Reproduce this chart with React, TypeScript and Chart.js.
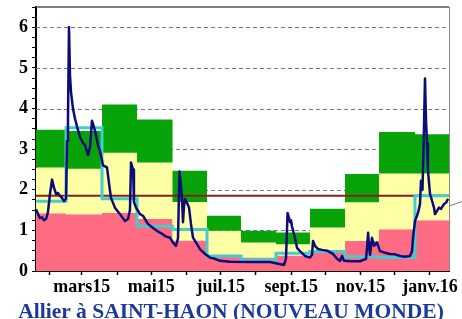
import React, { useEffect, useRef } from 'react';
import { Chart, registerables } from 'chart.js';

Chart.register(...registerables);

// ---- Data (days counted from 1 Jan 2015) ----
const X_MIN = 18.7;
const X_MAX = 381.7;
const MONTH_TICKS = [31, 59, 90, 120, 151, 181, 212, 243, 273, 304, 334, 365];
const MONTH_LABELS: Record<number, string> = {
  59: 'mars15',
  120: 'mai15',
  181: 'juil.15',
  243: 'sept.15',
  304: 'nov.15',
  365: 'janv.16',
};

// monthly blocks of the reference bands
const BLOCK_STARTS = [18.7, 45.1, 76.7, 107.5, 138.7, 169, 198.9, 229.6, 259.5, 290.3, 320.2, 351.8];
const BLOCK_END = 381.7;
const RED_TOP = [1.42, 1.40, 1.43, 1.28, 0.75, 0.40, 0.33, 0.38, 0.45, 0.74, 1.03, 1.25];
const YELLOW_TOP = [2.55, 2.52, 2.91, 2.67, 1.70, 0.99, 0.70, 0.66, 1.07, 1.69, 2.40, 2.40];
const GREEN_TOP = [3.48, 3.45, 4.10, 3.73, 2.47, 1.36, 0.99, 0.95, 1.53, 2.39, 3.42, 3.37];
const MONTHLY_MEAN = [1.72, 3.53, 1.78, 1.10, 1.02, 0.37, 0.27, 0.44, 0.48, 0.35, 0.33, 1.85];
const MODULE = 1.85;
const LEADER = [1.6, 1.71];
const GRID_VALUES = [1, 2, 3, 4, 5, 6];

// daily flow
const FLOW_DAY = [
  18.7, 20.5, 22.2, 24.0, 25.7, 27.5, 29.2, 31.0, 32.8, 34.5,
  36.3, 38.0, 39.8, 41.5, 43.3, 45.1, 46.0, 46.8, 47.7, 48.6,
  49.5, 51.2, 53.0, 54.8, 57.4, 60.0, 61.8, 64.4, 66.2, 67.9,
  70.6, 73.2, 75.0, 77.6, 81.1, 82.9, 84.6, 88.1, 92.5, 96.9,
  99.6, 101.3, 102.2, 104.0, 104.8, 106.6, 110.1, 112.7, 117.1, 121.5,
  125.9, 129.4, 132.1, 136.5, 139.1, 141.7, 143.5, 144.8, 146.1, 147.0,
  147.9, 148.8, 149.7, 151.4, 153.2, 154.9, 156.7, 160.2, 162.8, 167.2,
  171.6, 176.0, 180.4, 189.2, 206.8, 224.4, 231.4, 236.7, 238.4, 239.8,
  241.1, 242.0, 242.8, 243.7, 246.3, 248.1, 250.7, 255.1, 259.5, 261.3,
  262.2, 263.9, 266.6, 270.1, 274.5, 279.7, 283.3, 285.9, 287.7, 289.4,
  294.7, 303.5, 308.8, 309.7, 310.6, 311.4, 312.3, 314.0, 315.8, 318.4,
  321.1, 325.5, 329.9, 334.3, 338.6, 343.0, 347.4, 349.2, 350.1, 351.8,
  353.6, 354.9, 356.2, 357.1, 358.4, 359.7, 360.6, 361.5, 362.4, 363.2,
  365.0, 366.8, 368.5, 369.4, 371.2, 372.9, 374.7, 377.3, 379.1, 380.9,
];
const FLOW_Q = [
  1.52, 1.40, 1.30, 1.32, 1.25, 1.28, 1.45, 1.90, 2.25, 2.05,
  1.90, 1.92, 1.85, 1.80, 1.72, 1.78, 3.20, 3.70, 6.00, 4.80,
  4.40, 4.00, 3.75, 3.55, 3.30, 3.15, 3.10, 2.85, 3.05, 3.70,
  3.45, 3.10, 2.95, 2.60, 2.55, 2.15, 1.80, 1.56, 1.40, 1.23,
  1.28, 1.50, 2.67, 2.50, 1.70, 1.56, 1.40, 1.36, 1.16, 1.06,
  0.97, 0.92, 0.86, 0.82, 0.70, 0.62, 0.80, 2.45, 2.10, 1.80,
  1.20, 1.60, 1.77, 1.68, 1.56, 1.16, 0.82, 0.66, 0.54, 0.42,
  0.33, 0.30, 0.25, 0.23, 0.22, 0.22, 0.18, 0.15, 0.30, 1.43,
  1.30, 1.20, 1.25, 1.10, 0.82, 0.57, 0.49, 0.37, 0.33, 0.40,
  0.74, 0.62, 0.54, 0.52, 0.50, 0.42, 0.30, 0.25, 0.37, 0.25,
  0.24, 0.24, 0.30, 0.60, 0.94, 0.60, 0.40, 0.82, 0.62, 0.70,
  0.49, 0.45, 0.42, 0.41, 0.37, 0.35, 0.37, 0.49, 0.82, 1.23,
  1.36, 1.48, 1.65, 2.22, 2.00, 3.50, 4.74, 3.70, 3.14, 2.47,
  1.90, 1.73, 1.56, 1.40, 1.48, 1.56, 1.53, 1.65, 1.68, 1.78,
];

const TITLE = 'Allier à SAINT-HAON (NOUVEAU MONDE)';

const PINK = '#ff6b82';
const YELLOW = '#ffffa6';
const GREEN = '#08a308';
const CYAN = '#45cccc';
const NAVY = '#0b0b7a';
const BROWN = '#8a1e1e';
const FONT = "'Liberation Serif', 'Times New Roman', serif";

function stepData(vals: number[]) {
  const pts = BLOCK_STARTS.map((x, i) => ({ x, y: vals[i] }));
  pts.push({ x: BLOCK_END, y: vals[vals.length - 1] });
  return pts;
}

const framePlugin = {
  id: 'frame',
  beforeDatasetsDraw(chart: any) {
    const { ctx, chartArea } = chart;
    const ys = chart.scales.y;
    ctx.save();
    ctx.strokeStyle = '#7a7a7a';
    ctx.lineWidth = 1;
    ctx.setLineDash([4, 3]);
    for (const v of GRID_VALUES) {
      const y = Math.round(ys.getPixelForValue(v)) + 0.5;
      ctx.beginPath();
      ctx.moveTo(chartArea.left, y);
      ctx.lineTo(chartArea.right, y);
      ctx.stroke();
    }
    ctx.restore();
  },
  afterDatasetsDraw(chart: any) {
    const { ctx, chartArea } = chart;
    ctx.save();
    ctx.strokeStyle = '#555';
    ctx.lineWidth = 1.5;
    ctx.beginPath();
    ctx.moveTo(chartArea.left, chartArea.top);
    ctx.lineTo(chartArea.right, chartArea.top);
    ctx.stroke();
    ctx.strokeStyle = '#888';
    ctx.lineWidth = 1;
    ctx.beginPath();
    ctx.moveTo(chartArea.right + 0.5, chartArea.top);
    ctx.lineTo(chartArea.right + 0.5, chartArea.bottom);
    ctx.stroke();
    ctx.restore();
  },
  afterDraw(chart: any) {
    const { ctx, chartArea, width, height } = chart;
    const ys = chart.scales.y;
    ctx.save();
    // leader line leaving the frame on the right
    ctx.strokeStyle = '#777';
    ctx.lineWidth = 1;
    ctx.beginPath();
    ctx.moveTo(chartArea.right, ys.getPixelForValue(LEADER[0]));
    ctx.lineTo(width, ys.getPixelForValue(LEADER[1]));
    ctx.stroke();
    // title
    ctx.fillStyle = '#1c3a98';
    ctx.font = `bold 21.5px ${FONT}`;
    ctx.textAlign = 'center';
    ctx.textBaseline = 'alphabetic';
    ctx.fillText(TITLE, width / 2, height - 1);
    ctx.restore();
  },
};

export default function App() {
  const ref = useRef<HTMLCanvasElement>(null);
  useEffect(() => {
    document.body.style.margin = '0';
    const chart = new Chart(ref.current!, {
      type: 'line',
      data: {
        datasets: [
          {
            label: 'sec',
            data: stepData(RED_TOP),
            stepped: true,
            borderColor: 'rgba(0,0,0,0)',
            borderWidth: 0,
            pointRadius: 0,
            backgroundColor: PINK,
            fill: 'origin',
            order: 10,
          },
          {
            label: 'normal',
            data: stepData(YELLOW_TOP),
            stepped: true,
            borderColor: 'rgba(0,0,0,0)',
            borderWidth: 0,
            pointRadius: 0,
            backgroundColor: YELLOW,
            fill: '-1',
            order: 9,
          },
          {
            label: 'humide',
            data: stepData(GREEN_TOP),
            stepped: true,
            borderColor: 'rgba(0,0,0,0)',
            borderWidth: 0,
            pointRadius: 0,
            backgroundColor: GREEN,
            fill: '-1',
            order: 8,
          },
          {
            label: 'module',
            data: [
              { x: X_MIN, y: MODULE },
              { x: X_MAX, y: MODULE },
            ],
            borderColor: BROWN,
            borderWidth: 2,
            pointRadius: 0,
            fill: false,
            order: 3,
          },
          {
            label: 'moyenne mensuelle',
            data: stepData(MONTHLY_MEAN),
            stepped: true,
            borderColor: CYAN,
            borderWidth: 3,
            pointRadius: 0,
            fill: false,
            order: 2,
          },
          {
            label: 'débit journalier',
            data: FLOW_DAY.map((x, i) => ({ x, y: FLOW_Q[i] })),
            borderColor: NAVY,
            borderWidth: 2.5,
            borderJoinStyle: 'round',
            pointRadius: 0,
            fill: false,
            tension: 0,
            order: 1,
          },
        ] as any,
      },
      options: {
        animation: false,
        responsive: false,
        devicePixelRatio: 1,
        layout: { padding: { top: 7, right: 13, left: 0, bottom: 0 } },
        plugins: {
          legend: { display: false },
          tooltip: { enabled: false },
          title: { display: false },
        },
        scales: {
          x: {
            type: 'linear',
            min: X_MIN,
            max: X_MAX,
            afterBuildTicks(scale: any) {
              scale.ticks = MONTH_TICKS.map((value) => ({ value }));
            },
            afterFit(scale: any) {
              scale.height = 48;
              scale.paddingLeft = 0;
              scale.paddingRight = 0;
            },
            ticks: {
              autoSkip: false,
              maxRotation: 0,
              minRotation: 0,
              padding: 2,
              color: '#000',
              font: { family: FONT, size: 18, weight: 'bold' },
              callback: (v: any) => MONTH_LABELS[Number(v)] ?? '',
            },
            grid: {
              drawOnChartArea: false,
              drawTicks: true,
              tickLength: 4,
              tickColor: '#000',
              tickWidth: 1.5,
            },
            border: { display: true, color: '#000', width: 2 },
          },
          y: {
            type: 'linear',
            min: 0,
            max: 6.5,
            afterFit(scale: any) {
              scale.width = 36;
              scale.paddingTop = 0;
              scale.paddingBottom = 0;
            },
            ticks: {
              stepSize: 0.25,
              autoSkip: false,
              padding: 4,
              color: '#000',
              font: { family: FONT, size: 18, weight: 'bold' },
              callback: (v: any) => (Number.isInteger(Number(v)) ? String(v) : ''),
            },
            grid: {
              drawOnChartArea: false,
              tickLength: 4,
              tickColor: '#000',
              tickWidth: 1,
            },
            border: { display: true, color: '#000', width: 2 },
          },
        },
      } as any,
      plugins: [framePlugin],
    });
    return () => chart.destroy();
  }, []);
  return (
    <div style={{ width: 462, height: 319 }}>
      <canvas ref={ref} width={462} height={319} style={{ display: 'block' }} />
    </div>
  );
}
